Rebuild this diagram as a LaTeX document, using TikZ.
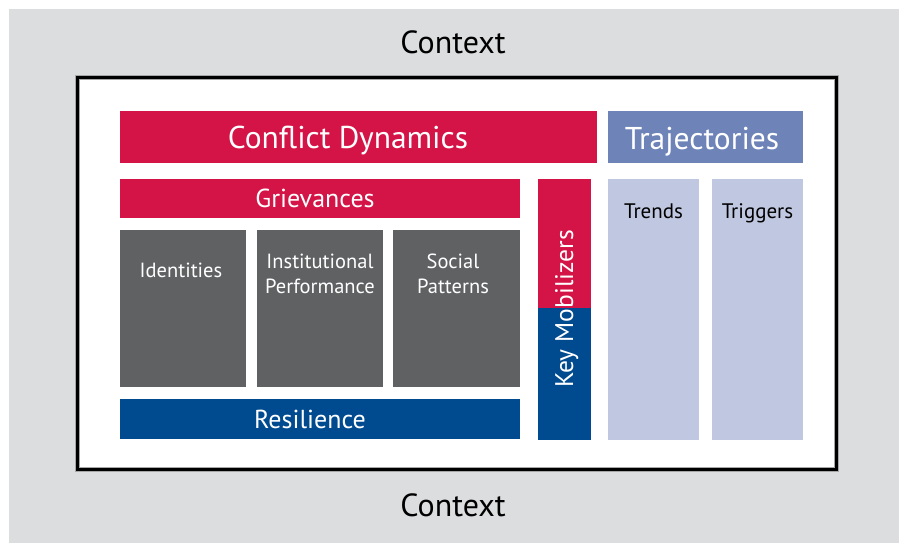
\documentclass[tikz,border=0pt]{standalone}
\usepackage{fontspec}
\setmainfont{PT Sans}
\definecolor{bggray}{HTML}{DCDDDF}
\definecolor{crimson}{HTML}{D41447}
\definecolor{navy}{HTML}{004A8F}
\definecolor{slate}{HTML}{606163}
\definecolor{trajblue}{HTML}{6E84B8}
\definecolor{lavender}{HTML}{C0C7E0}
\begin{document}
\begin{tikzpicture}[x=1pt, y=-1pt,
    headtext/.style={text=white, anchor=base, font=\fontsize{31.5}{31.5}\selectfont},
    bartext/.style={text=white, anchor=base, font=\fontsize{26}{26}\selectfont},
    boxtext/.style={text=white, align=center, anchor=base, font=\fontsize{20.5}{24.5}\selectfont},
    coltext/.style={text=black, anchor=base, font=\fontsize{21}{21}\selectfont},
    ctxtext/.style={text=black, anchor=base, font=\fontsize{32}{32}\selectfont}]
    \useasboundingbox (0,0) rectangle (899,543);
    \fill [bggray] (9,9) rectangle (899,543);
    \draw [line width=5pt, gray!70, fill=white] (77.5,77.5) rectangle (836.5,469.5);
    \draw [line width=3pt, black] (77.5,77.5) rectangle (836.5,469.5);
    \node [ctxtext] (ctxtop) at (453,53) {Context};
    \node [ctxtext] (ctxbottom) at (453,516) {Context};
    % conflict dynamics
    \fill [crimson] (120,111) rectangle (597,163);
    \node [headtext] (conflict) at (348,148) {Conflict Dynamics};
    \fill [crimson] (120,179) rectangle (520,218);
    \node [bartext] (grievances) at (315,207) {Grievances};
    \fill [slate] (120,230) rectangle (246,387);
    \fill [slate] (257,230) rectangle (383,387);
    \fill [slate] (393,230) rectangle (520,387);
    \node [boxtext] (identities) at (181,277) {Identities};
    \node [boxtext] (institutional) at (320,293) {Institutional\\Performance};
    \node [boxtext] (social) at (453,293) {Social\\Patterns};
    \fill [navy] (120,399) rectangle (520,439);
    \node [bartext] (resilience) at (310,428) {Resilience};
    % key mobilizers
    \fill [crimson] (538,179) rectangle (591,308);
    \fill [navy] (538,308) rectangle (591,440);
    \node [bartext, rotate=90, font=\fontsize{25.5}{25.5}\selectfont] (mobilizers) at (573,309) {Key Mobilizers};
    % trajectories
    \fill [trajblue] (608,111) rectangle (803,163);
    \node [headtext] (trajectories) at (702,149) {Trajectories};
    \fill [lavender] (608,179) rectangle (699,440);
    \fill [lavender] (712,179) rectangle (803,440);
    \node [coltext] (trends) at (653.5,218) {Trends};
    \node [coltext] (triggers) at (757.5,218) {Triggers};
\end{tikzpicture}
\end{document}
